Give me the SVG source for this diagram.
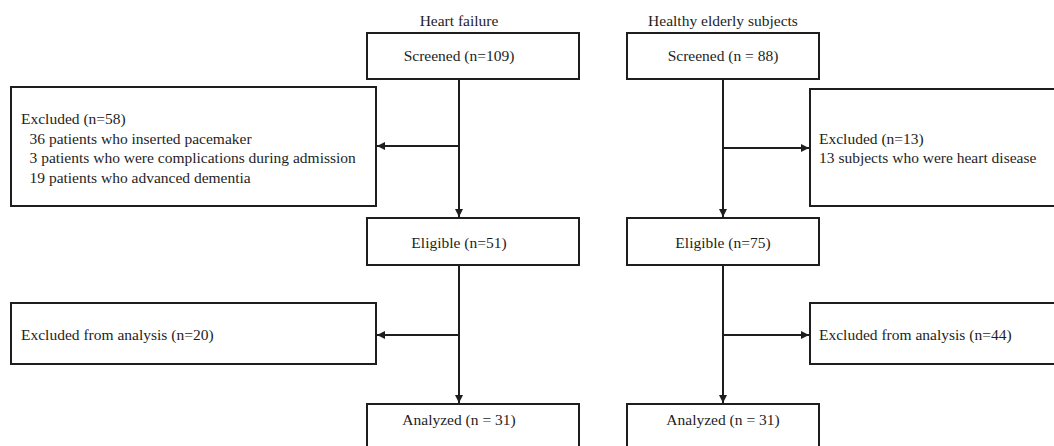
<svg xmlns="http://www.w3.org/2000/svg" width="1054" height="446" viewBox="0 0 1054 446">
<style>
.box{fill:#fff;stroke:#1e1e1e;stroke-width:2}
.t{font-family:"Liberation Serif","Times New Roman",serif;font-size:15.5px;fill:#1e1e1e}
.c{text-anchor:middle}
.ln{fill:none;stroke:#1e1e1e;stroke-width:2}
</style>
<defs>
<marker id="ah" viewBox="0 0 10 10" refX="10" refY="5" markerWidth="4" markerHeight="4" orient="auto" markerUnits="strokeWidth">
<path d="M0,0 L10,5 L0,10 z" fill="#1e1e1e"/>
</marker>
</defs>
<rect width="1054" height="446" fill="#fff"/>
<g id="labels">
<text class="t c" x="459" y="26">Heart failure</text>
<text class="t c" x="723" y="26">Healthy elderly subjects</text>
</g>
<g id="connectors">
<line class="ln" x1="459" y1="79" x2="459" y2="217" marker-end="url(#ah)"/>
<line class="ln" x1="459" y1="146" x2="377" y2="146" marker-end="url(#ah)"/>
<line class="ln" x1="459" y1="265" x2="459" y2="403" marker-end="url(#ah)"/>
<line class="ln" x1="459" y1="335" x2="377" y2="335" marker-end="url(#ah)"/>
<line class="ln" x1="723" y1="79" x2="723" y2="217" marker-end="url(#ah)"/>
<line class="ln" x1="723" y1="148" x2="809" y2="148" marker-end="url(#ah)"/>
<line class="ln" x1="723" y1="265" x2="723" y2="403" marker-end="url(#ah)"/>
<line class="ln" x1="723" y1="335" x2="809" y2="335" marker-end="url(#ah)"/>
</g>
<g id="hf-screened">
<rect class="box" x="367" y="33" width="212" height="46"/>
<text class="t c" x="459" y="61">Screened (n=109)</text>
</g>
<g id="hf-excluded">
<rect class="box" x="11" y="87" width="365" height="119"/>
<text class="t" x="21" y="124">Excluded (n=58)</text>
<text class="t" x="29.5" y="143.5">36 patients who inserted pacemaker</text>
<text class="t" x="29.5" y="163">3 patients who were complications during admission</text>
<text class="t" x="29.5" y="182.5">19 patients who advanced dementia</text>
</g>
<g id="hf-eligible">
<rect class="box" x="367" y="218" width="212" height="47"/>
<text class="t c" x="459" y="248">Eligible (n=51)</text>
</g>
<g id="hf-excl-analysis">
<rect class="box" x="11" y="303" width="365" height="61"/>
<text class="t" x="21" y="340">Excluded from analysis (n=20)</text>
</g>
<g id="hf-analyzed">
<rect class="box" x="367" y="404" width="212" height="50"/>
<text class="t c" x="459" y="425">Analyzed (n = 31)</text>
</g>
<g id="he-screened">
<rect class="box" x="627" y="33" width="192" height="46"/>
<text class="t c" x="723" y="61">Screened (n = 88)</text>
</g>
<g id="he-excluded">
<rect class="box" x="810" y="89" width="260" height="117"/>
<text class="t" x="819" y="144">Excluded (n=13)</text>
<text class="t" x="819" y="163">13 subjects who were heart disease</text>
</g>
<g id="he-eligible">
<rect class="box" x="627" y="218" width="192" height="47"/>
<text class="t c" x="723" y="248">Eligible (n=75)</text>
</g>
<g id="he-excl-analysis">
<rect class="box" x="810" y="303" width="260" height="61"/>
<text class="t" x="819" y="340">Excluded from analysis (n=44)</text>
</g>
<g id="he-analyzed">
<rect class="box" x="627" y="404" width="192" height="50"/>
<text class="t c" x="723" y="425">Analyzed (n = 31)</text>
</g>
</svg>
